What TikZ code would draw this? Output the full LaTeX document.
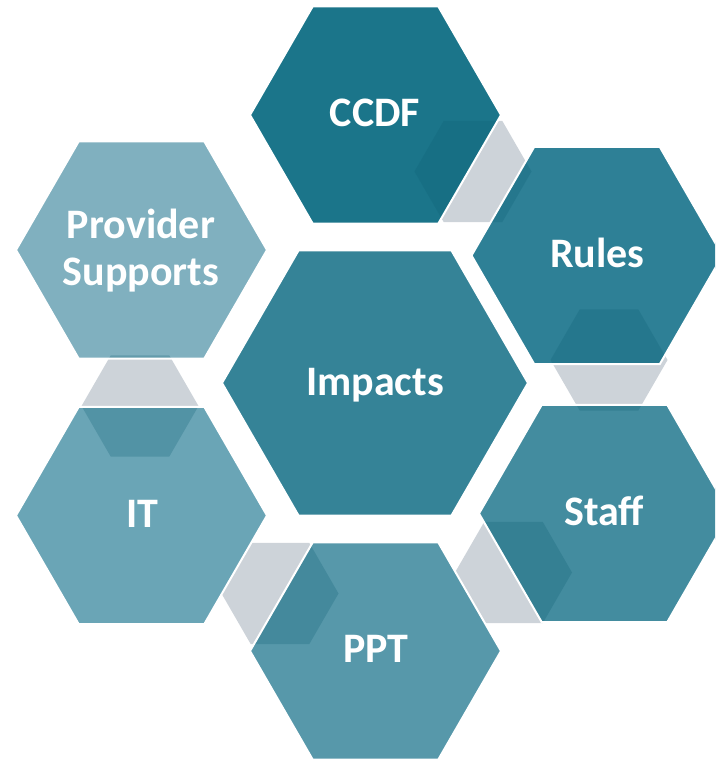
\documentclass[tikz,border=0pt]{standalone}
\usepackage{fontspec}
\setmainfont{Carlito}
\definecolor{cCCDF}{RGB}{27,117,138}
\definecolor{cRules}{RGB}{46,128,150}
\definecolor{cImpacts}{RGB}{53,131,151}
\definecolor{cStaff}{RGB}{67,140,159}
\definecolor{cPPT}{RGB}{87,152,170}
\definecolor{cIT}{RGB}{106,165,182}
\definecolor{cProv}{RGB}{128,176,191}
\definecolor{cGrey}{RGB}{205,211,217}
\definecolor{cShade}{RGB}{14,94,115}
\newcommand{\hexat}[3]{({#1-#3},#2) -- ({#1-#3/2},{#2-0.8660254*#3}) -- ({#1+#3/2},{#2-0.8660254*#3}) -- ({#1+#3},#2) -- ({#1+#3/2},{#2+0.8660254*#3}) -- ({#1-#3/2},{#2+0.8660254*#3}) -- cycle}
\newcommand{\bigR}{125.5}
\newcommand{\midR}{153}
\newcommand{\smallR}{58.5}
\tikzset{
  label text/.style={text=white, font=\fontsize{42}{47}\selectfont\bfseries, inner sep=0pt, align=center},
  gap line/.style={draw=white, line width=2pt, line join=miter}
}
\begin{document}
\begin{tikzpicture}[x=1pt,y=-1pt]
\useasboundingbox (0,0) rectangle (715,759);
\clip (0,0) rectangle (715,759);
% connector hexagons (grey)
\fill[cGrey] \hexat{473}{171.5}{\smallR};
\fill[cGrey] \hexat{609}{360}{\smallR};
\fill[cGrey] \hexat{513.5}{572.5}{\smallR};
\fill[cGrey] \hexat{280}{593.5}{\smallR};
\fill[cGrey] \hexat{140}{406}{\smallR};
% main hexagons
\fill[cCCDF] \hexat{375.5}{115}{\bigR};
\fill[cRules] \hexat{597}{255.5}{\bigR};
\fill[cStaff] \hexat{604.5}{513.5}{\bigR};
\fill[cPPT] \hexat{375.5}{651}{\bigR};
\fill[cIT] \hexat{141.5}{515.5}{\bigR};
\fill[cProv] \hexat{141.5}{250}{\bigR};
\fill[cImpacts] \hexat{375}{383}{\midR};
% darker overlap of connectors inside main hexagons
\begin{scope}
\clip \hexat{375.5}{115}{\bigR} \hexat{597}{255.5}{\bigR} \hexat{604.5}{513.5}{\bigR}
      \hexat{375.5}{651}{\bigR} \hexat{141.5}{515.5}{\bigR} \hexat{141.5}{250}{\bigR};
\fill[cShade, fill opacity=0.25] \hexat{473}{171.5}{\smallR};
\fill[cShade, fill opacity=0.25] \hexat{609}{360}{\smallR};
\fill[cShade, fill opacity=0.25] \hexat{513.5}{572.5}{\smallR};
\fill[cShade, fill opacity=0.25] \hexat{280}{593.5}{\smallR};
\fill[cShade, fill opacity=0.25] \hexat{140}{406}{\smallR};
\end{scope}
% white gaps
\path[gap line] \hexat{375.5}{115}{\bigR};
\path[gap line] \hexat{597}{255.5}{\bigR};
\path[gap line] \hexat{604.5}{513.5}{\bigR};
\path[gap line] \hexat{375.5}{651}{\bigR};
\path[gap line] \hexat{141.5}{515.5}{\bigR};
\path[gap line] \hexat{141.5}{250}{\bigR};
\path[gap line] \hexat{375}{383}{\midR};
% labels
\node[label text, anchor=base] (impacts) at (375,395) {Impacts};
\node[label text, anchor=base] (ccdf) at (375,127) {CCDF};
\node[label text, anchor=base] (rules) at (597.5,267) {Rules};
\node[label text, anchor=base] (staff) at (604,525) {Staff};
\node[label text, anchor=base] (ppt) at (376,662) {PPT};
\node[label text, anchor=base] (it) at (142,527) {IT};
\node[label text, anchor=base] (provider) at (141,285) {Provider\\Supports};
\end{tikzpicture}
\end{document}
